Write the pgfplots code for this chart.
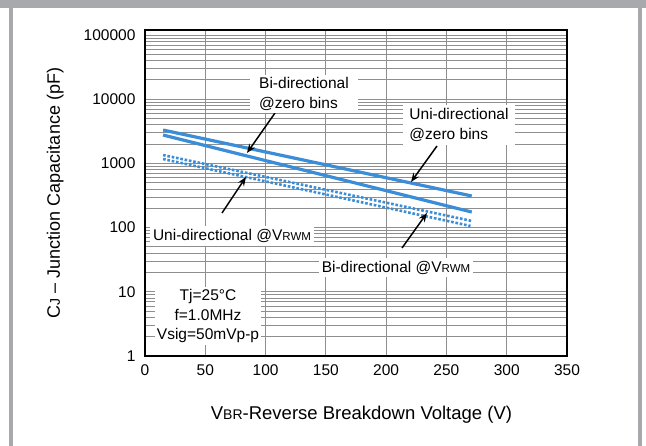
\documentclass[border=0pt]{standalone}
\usepackage{pgfplots}
\pgfplotsset{compat=1.18}
\usepackage{fontspec}
\setmainfont{Liberation Sans}
\usetikzlibrary{arrows.meta}
\definecolor{frame}{HTML}{A8A9AD}
\definecolor{cblue}{HTML}{3A8DD6}
\definecolor{gridc}{HTML}{8E8E8E}
\newcommand{\sm}[1]{{\fontsize{11.5}{12}\selectfont #1}}
\newcommand{\smx}[1]{{\fontsize{14}{15}\selectfont #1}}
\begin{document}
\begin{tikzpicture}[x=1pt,y=1pt]
\useasboundingbox (0,0) rectangle (646,446);
\fill[white] (0,0) rectangle (646,446);
\fill[frame] (0,438) rectangle (646,446);
\fill[frame] (9,0) rectangle (13,438);
\fill[frame] (638,0) rectangle (642,438);
\begin{axis}[
  at={(145pt,90pt)}, anchor=south west,
  width=422pt, height=326pt, scale only axis,
  ymode=log, ymin=1, ymax=120000,
  xmin=0, xmax=350,
  xtick={0,50,100,150,200,250,300,350},
  xticklabels={0,50,100,150,200,250,300,350},
  ytick={1,10,100,1000,10000,100000},
  yticklabels={1,10,100,1000,10000,100000},
  minor ytick={2,3,4,5,6,7,8,9,20,30,40,50,60,70,80,90,200,300,400,500,600,700,800,900,2000,3000,4000,5000,6000,7000,8000,9000,20000,30000,40000,50000,60000,70000,80000,90000},
  major tick length=0pt, minor tick length=0pt,
  grid=both,
  major grid style={draw=gridc, line width=0.9pt},
  minor grid style={draw=gridc, line width=0.9pt},
  axis line style={black, line width=2pt},
  tick label style={font=\fontsize{15.5}{17}\selectfont},
  xticklabel style={yshift=-5pt},
  yticklabel style={xshift=-6pt},
  xlabel={V\smx{BR}-Reverse Breakdown Voltage (V)},
  ylabel={C\smx{J} -- Junction Capacitance (pF)},
  xlabel style={font=\fontsize{18.5}{20}\selectfont, at={(axis description cs:0.513,-0.181)}, anchor=center},
  ylabel style={font=\fontsize{18}{20}\selectfont, at={(axis description cs:-0.213,0.5)}, anchor=center},
  clip=true,
]
\addplot[cblue, line width=3.2pt] coordinates {(15,3313) (271,311)};
\addplot[cblue, line width=3.2pt] coordinates {(15,2770) (271,175)};
\addplot[cblue, line width=2.6pt, dash pattern=on 2.6pt off 1.8pt] coordinates {(15,1352) (271,127)};
\addplot[cblue, line width=2.6pt, dash pattern=on 2.6pt off 1.8pt] coordinates {(15,1171) (270,106)};
\end{axis}
\tikzset{lbl/.style={fill=white, inner sep=3pt, font=\fontsize{15.5}{19.5}\selectfont}}
\tikzset{arr/.style={-{Stealth[length=9pt,width=7pt]}, line width=1.5pt, black}}
\draw[arr] (275,333) -- (247,293);
\draw[arr] (437,300) -- (411,264);
\draw[arr] (222,233) -- (246,269);
\draw[arr] (402,198) -- (427,233);
\node[lbl, align=left, minimum width=108pt, minimum height=38pt] at (304,352) {Bi-directional\\@zero bins};
\node[lbl, align=left, minimum width=112pt, minimum height=40pt] at (459,321) {Uni-directional\\@zero bins};
\node[lbl] at (232,210) {Uni-directional @V\sm{RWM}};
\node[lbl] at (396,178.5) {Bi-directional @V\sm{RWM}};
\node[lbl, align=center, inner sep=2pt] at (208,130) {Tj=25°C\\f=1.0MHz\\Vsig=50mVp-p};
\end{tikzpicture}
\end{document}
